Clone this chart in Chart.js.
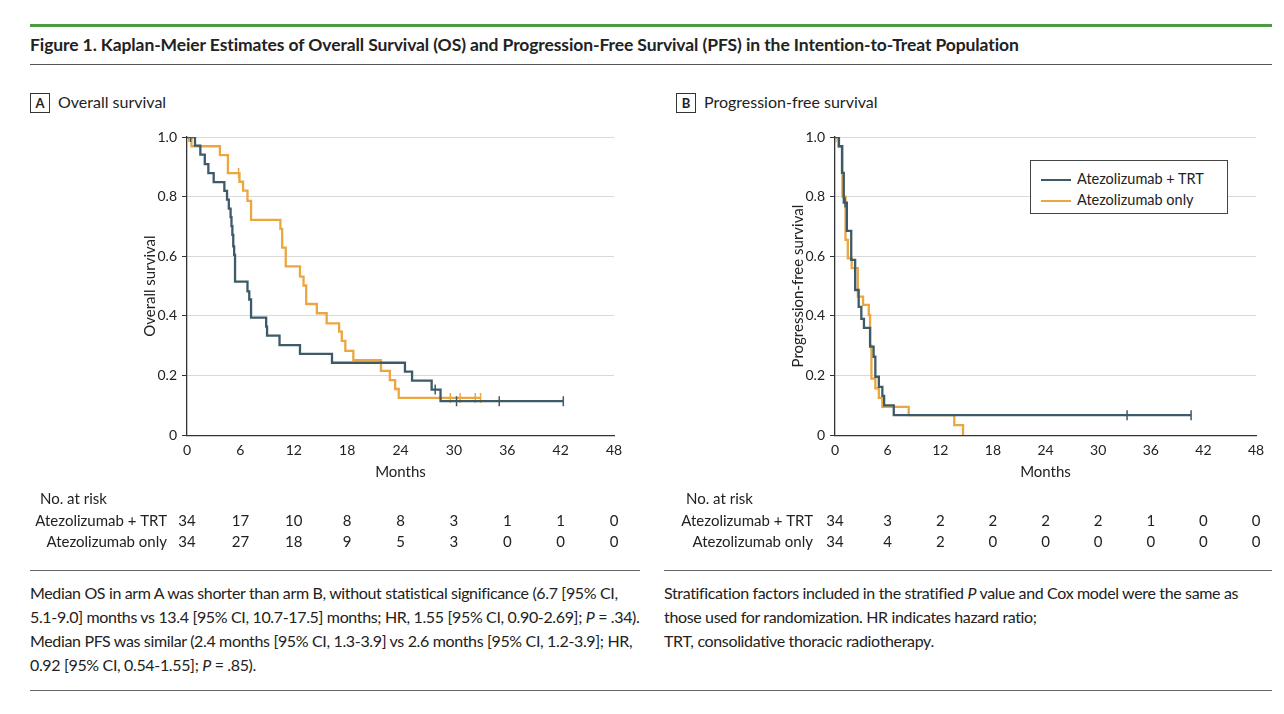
<!DOCTYPE html>
<html><head><meta charset="utf-8">
<script src="https://cdn.jsdelivr.net/npm/chart.js@4"></script>
<style>
body{margin:0;width:1284px;height:714px;background:#fff;font-family:Lato,"Open Sans",sans-serif;color:#222;position:relative;overflow:hidden}
.abs{position:absolute}
.lbl{font-size:16px}
.box{display:inline-block;border:1px solid #333;width:18px;height:18px;text-align:center;font-weight:bold;font-size:13px;line-height:18px;margin-right:8px}
.foot{font-size:16px;line-height:24px;letter-spacing:-0.35px}
</style></head><body>
<div class="abs" style="left:30px;top:24px;width:1242px;height:3px;background:#4c9a44"></div>
<div class="abs" style="left:30px;top:34px;font-size:17.5px;font-weight:bold;letter-spacing:-0.1px">Figure 1. Kaplan-Meier Estimates of Overall Survival (OS) and Progression-Free Survival (PFS) in the Intention-to-Treat Population</div>
<div class="abs" style="left:30px;top:64px;width:1242px;height:1px;background:#555"></div>
<div class="abs lbl" style="left:30px;top:92px"><span class="box">A</span>Overall survival</div>
<div class="abs lbl" style="left:676px;top:92px"><span class="box">B</span>Progression-free survival</div>
<canvas id="cA" class="abs" style="left:0;top:120px"></canvas>
<canvas id="cB" class="abs" style="left:640px;top:120px"></canvas>
<div class="abs" style="left:1030px;top:160px;width:196px;height:52px;border:1px solid #444;background:#fff;font-size:14.5px">
 <div style="position:absolute;left:10px;top:9px"><span style="display:inline-block;width:30px;height:2px;background:#3d5a68;vertical-align:middle;margin-right:6px"></span>Atezolizumab + TRT</div>
 <div style="position:absolute;left:10px;top:30px"><span style="display:inline-block;width:30px;height:2px;background:#eba640;vertical-align:middle;margin-right:6px"></span>Atezolizumab only</div>
</div>
<div class="abs" style="left:30px;top:570px;width:610px;height:1px;background:#666"></div>
<div class="abs" style="left:664px;top:570px;width:608px;height:1px;background:#666"></div>
<div class="abs foot" style="left:30px;top:581px;width:610px">Median OS in arm A was shorter than arm B, without statistical significance (6.7 [95% CI, 5.1-9.0] months vs 13.4 [95% CI, 10.7-17.5] months; HR, 1.55 [95% CI, 0.90-2.69]; <i>P</i> = .34). Median PFS was similar (2.4 months [95% CI, 1.3-3.9] vs 2.6 months [95% CI, 1.2-3.9]; HR, 0.92 [95% CI, 0.54-1.55]; <i>P</i> = .85).</div>
<div class="abs foot" style="left:664px;top:581px;width:600px">Stratification factors included in the stratified <i>P</i> value and Cox model were the same as those used for randomization. HR indicates hazard ratio;<br>TRT, consolidative thoracic radiotherapy.</div>
<div class="abs" style="left:30px;top:690px;width:1242px;height:1px;background:#666"></div>
<script>
const BLUE='#3d5a68', ORANGE='#eba640';
const xTicks=[0,6,12,18,24,30,36,42,48];
const yTicks=[0,0.2,0.4,0.6,0.8,1.0];
// Panel A: Overall survival
const osTrtT=[0,0.9,1.5,2.0,2.4,3.0,4.2,4.5,4.7,4.9,5.0,5.1,5.2,5.3,5.4,6.8,7.0,7.2,8.9,9.0,10.4,12.7,16.3,24.5,25.3,27.5,28.5,42.3];
const osTrtS=[1,0.971,0.941,0.909,0.879,0.849,0.819,0.790,0.760,0.731,0.701,0.672,0.633,0.605,0.515,0.482,0.455,0.394,0.364,0.334,0.302,0.273,0.243,0.213,0.183,0.153,0.114,0.114];
const osTrtCensT=[0.4,27.9,30.3,35.1,42.3];
const osTrtCensS=[1,0.153,0.114,0.114,0.114];
const osOnlyT=[0,0.5,3.7,4.6,5.9,6.3,6.8,7.2,10.5,10.7,11.1,12.7,13.1,13.4,14.6,15.7,17.1,17.4,17.8,18.7,21.8,22.8,23.4,23.8,33.0];
const osOnlyS=[1,0.969,0.939,0.879,0.850,0.820,0.786,0.722,0.692,0.629,0.566,0.532,0.502,0.440,0.409,0.375,0.347,0.316,0.283,0.252,0.216,0.185,0.155,0.125,0.125];
const osOnlyCensT=[0.2,5.8,29.6,30.7,32.4,33.0];
const osOnlyCensS=[1,0.879,0.125,0.125,0.125,0.125];
// Panel B: Progression-free survival
const pfsTrtT=[0,0.45,0.8,1.0,1.35,1.85,2.3,2.7,3.0,3.3,4.0,4.4,4.6,5.0,5.4,5.6,6.7,40.6];
const pfsTrtS=[1,0.969,0.88,0.78,0.685,0.588,0.487,0.43,0.39,0.36,0.297,0.263,0.196,0.162,0.132,0.10,0.067,0.067];
const pfsTrtCensT=[1.15,33.3,40.6];
const pfsTrtCensS=[0.78,0.067,0.067];
const pfsOnlyT=[0,0.4,0.85,1.2,1.46,1.9,2.6,3.2,3.85,4.0,4.15,4.6,5.0,5.4,8.4,13.6,14.6];
const pfsOnlyS=[1,0.969,0.80,0.655,0.593,0.56,0.465,0.437,0.403,0.30,0.19,0.157,0.125,0.095,0.067,0.034,0];
const pfsOnlyCensT=[0.1];
const pfsOnlyCensS=[1];
// risk tables
const riskLabels=['Atezolizumab + TRT','Atezolizumab only'];
const riskA=[[34,17,10,8,8,3,1,1,0],[34,27,18,9,5,3,0,0,0]];
const riskB=[[34,3,2,2,2,2,1,0,0],[34,4,2,0,0,0,0,0,0]];

const zip=(t,s)=>t.map((v,i)=>({x:v,y:s[i]}));
const FONT='Lato, "Open Sans", sans-serif';
function make(id,width,padL,padR,yTitle,sets,risk,labelRight){
  const riskPlugin={id:'risk',afterDraw(ch){
    const c=ch.ctx,xs=ch.scales.x;c.save();c.fillStyle='#222';
    c.font='15px '+FONT;c.textAlign='left';c.textBaseline='middle';
    c.fillText('No. at risk',labelRight-127,379);
    risk.forEach((row,r)=>{const y=401+r*21;c.textAlign='right';c.fillText(riskLabels[r],labelRight,y);
      c.textAlign='center';row.forEach((v,i)=>c.fillText(String(v),xs.getPixelForValue(xTicks[i]),y));});
    c.restore();}};
  const ds=[];
  sets.forEach(([t,s,ct,cs,col])=>{
    ds.push({type:'line',data:zip(t,s),stepped:'before',borderColor:col,borderWidth:2.3,pointRadius:0,fill:false});
    ds.push({type:'scatter',data:zip(ct,cs),pointStyle:'line',rotation:90,radius:5,borderColor:col,borderWidth:1.5,backgroundColor:col});
  });
  const cv=document.getElementById(id);
  return new Chart(cv,{type:'line',data:{datasets:ds},plugins:[riskPlugin],
    options:{responsive:false,animation:false,devicePixelRatio:1,
      layout:{padding:{left:padL,right:padR,top:17,bottom:75}},
      plugins:{legend:{display:false},tooltip:{enabled:false}},
      scales:{
        x:{type:'linear',min:0,max:48,afterBuildTicks:s=>{s.ticks=xTicks.map(v=>({value:v}));},
          grid:{display:false,drawTicks:true,tickLength:5,tickColor:'#333'},border:{color:'#333',width:1.3},
          ticks:{color:'#222',font:{size:14,family:FONT},padding:2,maxRotation:0},
          title:{display:true,text:'Months',color:'#222',font:{size:15,family:FONT},padding:{top:2}}},
        y:{type:'linear',min:0,max:1,afterBuildTicks:s=>{s.ticks=yTicks.map(v=>({value:v}));},
          afterFit:s=>{s.width=50;},
          grid:{color:'#d9d9d9',lineWidth:1,tickLength:5,tickColor:'#333'},border:{color:'#333',width:1.3},
          ticks:{color:'#222',font:{size:14,family:FONT},padding:5,callback:v=>v===0?'0':v.toFixed(1)},
          title:{display:true,text:yTitle,color:'#222',font:{size:15,family:FONT},padding:{bottom:0}}}}}});
}
function size(id,w,h){const c=document.getElementById(id);c.width=w;c.height=h;c.style.width=w+'px';c.style.height=h+'px';}
size('cA',640,440);size('cB',644,440);
make('cA',640,137,26,'Overall survival',[[osTrtT,osTrtS,osTrtCensT,osTrtCensS,BLUE],[osOnlyT,osOnlyS,osOnlyCensT,osOnlyCensS,ORANGE]],riskA,167);
make('cB',644,145,28,'Progression-free survival',[[pfsTrtT,pfsTrtS,pfsTrtCensT,pfsTrtCensS,BLUE],[pfsOnlyT,pfsOnlyS,pfsOnlyCensT,pfsOnlyCensS,ORANGE]],riskB,173);
</script></body></html>
